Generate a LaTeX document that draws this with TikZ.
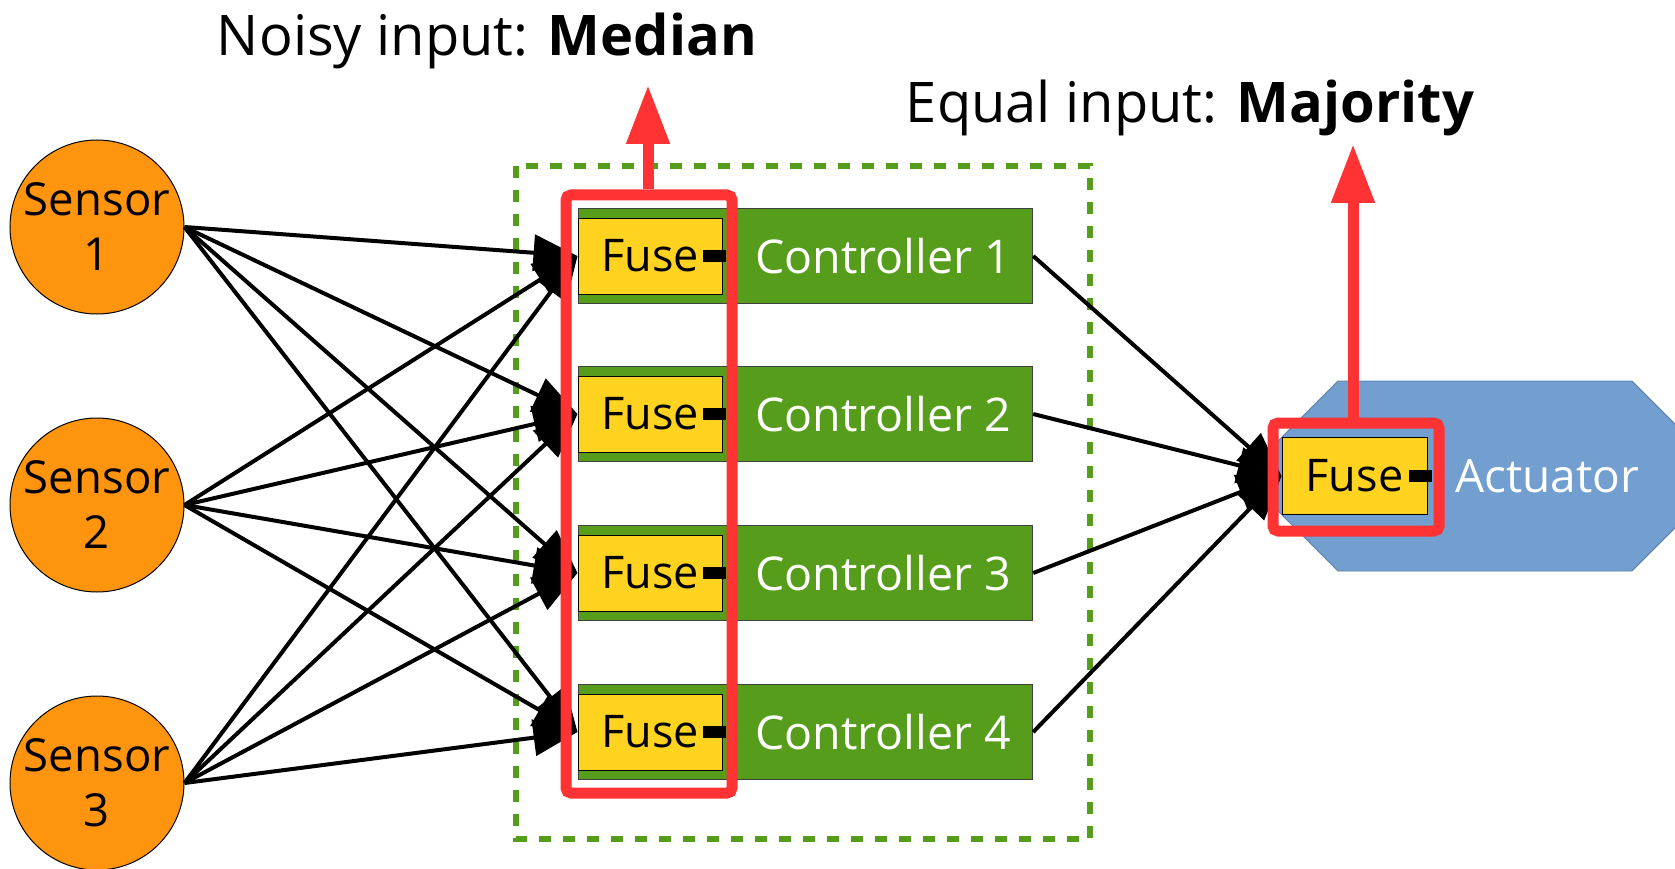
\documentclass[tikz,border=0pt]{standalone}
\usepackage{fontspec}
\setmainfont{Open Sans}
\usetikzlibrary{arrows.meta}

\definecolor{sensorC}{HTML}{FF950E}
\definecolor{ctrlC}{HTML}{579D1C}
\definecolor{fuseC}{HTML}{FFD320}
\definecolor{actC}{HTML}{729FCF}
\definecolor{markC}{HTML}{FF3333}

\tikzset{
  sensor/.style={circle, draw=black, line width=1pt, fill=sensorC,
    minimum size=174pt, inner sep=0pt, align=center,
    font=\fontsize{45.5}{55}\selectfont},
  ctrlbox/.style={rectangle, draw=black!75, line width=1.2pt, fill=ctrlC,
    minimum width=454pt, minimum height=95pt, inner sep=0pt, anchor=west},
  ctrltext/.style={text=white, inner sep=0pt, font=\fontsize{46.5}{54}\selectfont},
  fusebox/.style={rectangle, draw=black, line width=1pt, fill=fuseC,
    minimum width=144pt, minimum height=76pt, inner sep=0pt,
    font=\fontsize{45}{54}\selectfont},
  plug/.style={rectangle, fill=black, minimum width=23pt, minimum height=12pt,
    inner sep=0pt, anchor=east},
  link/.style={line width=4pt, -{Triangle[length=44pt, width=36pt]}},
  markbox/.style={rectangle, draw=markC, line width=11pt, rounded corners=5pt,
    inner sep=0pt},
  markarrow/.style={draw=markC, line width=11pt,
    -{Triangle[length=59pt, width=41pt]}},
  heading/.style={anchor=base, inner sep=0pt, font=\fontsize{56}{66}\selectfont},
}

\begin{document}
\begin{tikzpicture}[x=1pt, y=-1pt]
\useasboundingbox (0,0) rectangle (1675,869);

% controller group
\draw[ctrlC, line width=6.5pt, dash pattern=on 12pt off 12pt] (516,166) rectangle (1090,839);

% sensors
\node[sensor] (s1) at (97,227) {Sensor\\1};
\node[sensor] (s2) at (97,505) {Sensor\\2};
\node[sensor] (s3) at (97,783) {Sensor\\3};

% controllers with their input fuses
\foreach \i/\y in {1/256, 2/414, 3/573, 4/732} {
  \node[ctrlbox] (c\i) at (578,\y) {};
  \node[ctrltext] (ct\i) at (883,\y) {Controller \i};
  \node[fusebox] (f\i) at (650,\y) {Fuse};
  \node[plug] (p\i) at ([xshift=4pt]f\i.east) {};
}

% actuator
\path[fill=actC, draw=actC!80!black, line width=0.8pt]
  (1243,476) -- (1338,381) -- (1632,381) -- (1727,476) -- (1632,571) -- (1338,571) -- cycle;
\node[fusebox, minimum width=145pt, minimum height=77pt] (fa) at (1354.5,476) {Fuse};
\node[plug] (pa) at ([xshift=5pt]fa.east) {};
\node[ctrltext, font=\fontsize{46}{54}\selectfont] (act) at (1547,476) {Actuator};

% sensor to fuse links
\foreach \s in {1,2,3} {
  \foreach \f in {1,2,3,4} {
    \draw[link] (s\s.east) -- (f\f.west);
  }
}

% controller to actuator links
\foreach \c in {1,2,3,4} {
  \draw[link] (c\c.east) -- (fa.west);
}

% highlighted fuse groups
\node[markbox, minimum width=166pt, minimum height=598pt] (mm) at (649,494) {};
\node[markbox, minimum width=166pt, minimum height=108pt] (ma) at (1356,477) {};
\coordinate (tm) at (648,85);
\coordinate (ta) at (1353,144);
\draw[markarrow] (mm.north -| tm) -- (tm);
\draw[markarrow] (ma.north -| ta) -- (ta);

% headings
\node[heading] (hm) at (487,56) {Noisy input: \textbf{Median}};
\node[heading] (ha) at (1190,123) {Equal input: \textbf{Majority}};
\end{tikzpicture}
\end{document}
